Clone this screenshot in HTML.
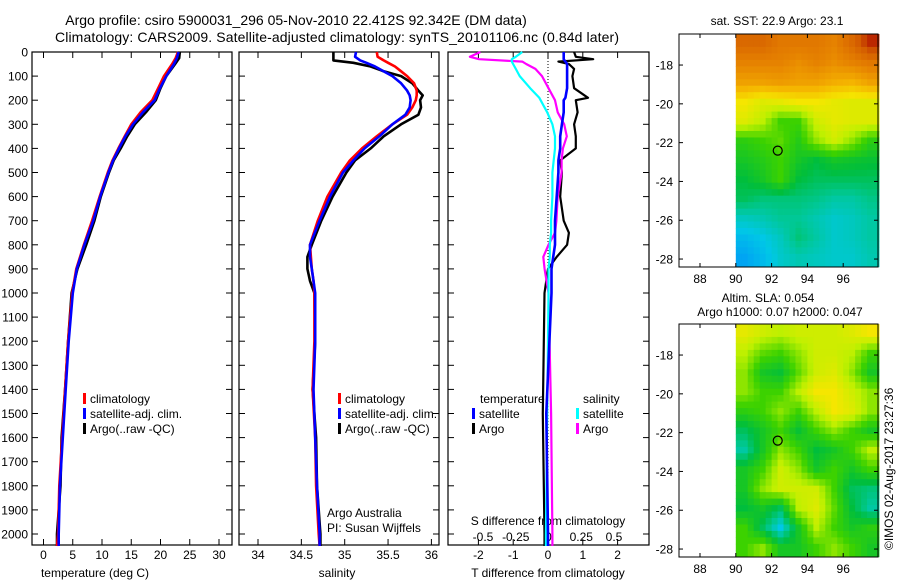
<!DOCTYPE html>
<html><head><meta charset="utf-8">
<style>
body{margin:0;background:#fff;}
svg{display:block;font-family:"Liberation Sans",sans-serif;}
text{fill:#000;}
</style></head>
<body>
<svg id="c" width="900" height="580" viewBox="0 0 900 580">
<text x="296" y="25" font-size="14" text-anchor="middle">Argo profile: csiro 5900031_296 05-Nov-2010 22.412S 92.342E (DM data)</text>
<text x="337" y="42" font-size="14" text-anchor="middle" textLength="564">Climatology: CARS2009. Satellite-adjusted climatology: synTS_20101106.nc (0.84d later)</text>
<text x="777" y="25" font-size="12" text-anchor="middle">sat. SST: 22.9 Argo: 23.1</text>
<text x="768" y="302" font-size="12" text-anchor="middle">Altim. SLA: 0.054</text>
<text x="780" y="316" font-size="12" text-anchor="middle">Argo h1000: 0.07 h2000: 0.047</text>
<text transform="translate(893,550) rotate(-90)" font-size="12">©IMOS 02-Aug-2017 23:27:36</text>
<text x="95" y="577" font-size="12" text-anchor="middle">temperature (deg C)</text>
<text x="337" y="577" font-size="12" text-anchor="middle">salinity</text>
<text x="548" y="577" font-size="12" text-anchor="middle">T difference from climatology</text>
<text x="548" y="525" font-size="12" text-anchor="middle">S difference from climatology</text>
<text x="327" y="517" font-size="12">Argo Australia</text>
<text x="327" y="532" font-size="12">PI: Susan Wijffels</text>
</svg>
<script>
// ---------- data ----------
const tDepths=[0,25,50,100,150,200,250,300,350,400,450,500,600,700,800,900,1000,1200,1400,1600,1800,2000,2050];
const tClim=[23.0,22.6,22.0,20.6,19.6,18.6,16.6,15.0,13.9,12.8,11.8,11.0,9.6,8.3,6.9,5.6,4.9,4.2,3.7,3.2,2.7,2.5,2.3];
const tSat=[23.1,22.8,22.3,21.0,19.9,19.0,17.0,15.3,14.0,12.9,11.9,11.1,9.7,8.5,7.0,5.7,5.0,4.3,3.8,3.3,2.8,2.6,2.6];
const tArgo=[23.3,23.2,22.5,21.0,20.0,19.2,17.5,15.6,14.3,13.2,12.0,11.2,9.8,8.7,7.3,5.8,4.8,4.2,3.7,3.1,2.9,2.3,2.3];
const sDepths=[0,20,35,45,60,80,100,130,160,180,200,230,260,300,350,400,450,500,600,700,800,850,900,950,1000,1200,1400,1600,1800,2000,2050];
const sClim=[35.37,35.38,35.45,35.5,35.58,35.65,35.72,35.8,35.83,35.83,35.82,35.78,35.72,35.55,35.37,35.2,35.06,34.96,34.8,34.69,34.6,34.61,34.62,34.64,34.65,34.65,34.63,34.66,34.67,34.7,34.71];
const sSat=[35.13,35.12,35.18,35.25,35.35,35.45,35.55,35.65,35.72,35.75,35.76,35.75,35.7,35.55,35.4,35.23,35.1,34.98,34.83,34.71,34.6,34.6,34.62,34.64,34.66,34.66,34.64,34.66,34.68,34.71,34.71];
const sArgo=[34.87,34.87,34.87,35.1,35.3,35.45,35.65,35.78,35.85,35.9,35.87,35.88,35.85,35.65,35.45,35.3,35.12,35.02,34.86,34.73,34.62,34.57,34.57,34.6,34.65,34.66,34.63,34.67,34.68,34.72,34.72];
const dDepths=[0,20,30,40,50,70,100,150,190,200,250,300,350,400,450,500,600,700,750,800,850,900,1000,1500,2000,2050];
const dTSat=[.45,.45,.45,.5,.55,.55,.55,.55,.5,.45,.45,.4,.35,.35,.3,.3,.25,.2,.2,.2,.15,.1,.1,-.05,0,0];
const dTArgo=[.75,.8,1.3,.3,.6,.75,.7,.75,1.15,.8,.85,.75,.8,.8,.35,.4,.35,.45,.6,.55,.25,0,-.1,-.15,-.1,-.1];
const dSArgo=[-.52,-.6,-.53,-.2,-.17,-.1,-.05,0,.04,.05,.07,.12,.14,.11,.1,.1,.07,.06,.05,0,-.04,-.03,0,.02,.03,.03];
const dSSat=[-.2,-.25,-.28,-.28,-.27,-.25,-.22,-.14,-.07,-.06,-.01,.03,.05,.05,.04,.03,.03,.02,.02,.01,.01,0,0,-.01,-.02,-.02];
const depthTicks=[0,100,200,300,400,500,600,700,800,900,1000,1100,1200,1300,1400,1500,1600,1700,1800,1900,2000];
const tTicks=[0,5,10,15,20,25,30];
const sTicks=[34,34.5,35,35.5,36];
const sTickLabels=["34","34.5","35","35.5","36"];
const dTTicks=[-2,-1,0,1,2];
const dSTicks=[-0.5,-0.25,0,0.25,0.5];
const dSTickLabels=["-0.5","-0.25","0","0.25","0.5"];
const lonTicks=[88,90,92,94,96];
const latTicks=[-18,-20,-22,-24,-26,-28];
const sstGrid=[
[.85,.85,.82,.82,.82,.8,.85,.92],
[.8,.8,.8,.78,.8,.78,.8,.82],
[.75,.75,.76,.75,.75,.73,.72,.75],
[.65,.62,.63,.65,.65,.63,.62,.62],
[.62,.58,.5,.5,.6,.63,.62,.62],
[.48,.5,.52,.47,.55,.6,.55,.48],
[.45,.47,.5,.45,.42,.45,.44,.43],
[.42,.45,.5,.42,.4,.4,.4,.4],
[.4,.38,.38,.38,.37,.35,.35,.37],
[.33,.34,.36,.36,.34,.32,.33,.35],
[.28,.3,.33,.38,.35,.32,.33,.35],
[.25,.28,.32,.34,.33,.32,.32,.34]];
const slaGrid=[
[.63,.6,.58,.6,.6,.6,.62,.65],
[.58,.52,.5,.55,.6,.6,.58,.5],
[.55,.45,.43,.52,.6,.62,.55,.45],
[.55,.5,.5,.58,.65,.65,.6,.55],
[.48,.5,.55,.5,.58,.65,.62,.55],
[.4,.45,.5,.43,.5,.55,.5,.45],
[.35,.45,.55,.5,.42,.45,.5,.58],
[.45,.5,.6,.55,.45,.5,.45,.5],
[.45,.55,.6,.6,.6,.5,.4,.38],
[.42,.45,.4,.58,.62,.52,.42,.35],
[.5,.4,.3,.45,.58,.5,.45,.48],
[.5,.55,.45,.45,.5,.55,.5,.45]];
const argoLon=92.342, argoLat=-22.412;

// ---------- helpers ----------
const svg=document.getElementById('c');
const NS='http://www.w3.org/2000/svg';
function mk(tag,attrs,parent){const e=document.createElementNS(NS,tag);for(const k in attrs)e.setAttribute(k,attrs[k]);(parent||svg).appendChild(e);return e;}
const Y0=52, YPX=0.241;
const yD=d=>Y0+d*YPX;
const PB=545;
const xT=v=>43.5+v*5.85;
const xS=v=>258+(v-34)*86.7;
const xDT=v=>548+v*34.8;
const xDS=v=>548.5+v*131;

function panel(name,x0,x1,labels){
  const r=mk('rect',{x:x0,y:Y0,width:x1-x0,height:PB-Y0,fill:'none',stroke:'#000','stroke-width':1.2});
  
  
  depthTicks.forEach(d=>{
    const y=yD(d);
    mk('line',{x1:x0,x2:x0+6,y1:y,y2:y,stroke:'#000'});
    mk('line',{x1:x1-6,x2:x1,y1:y,y2:y,stroke:'#000'});
    if(labels){const t=mk('text',{x:x0-4,y:y+4.5,'font-size':12,'text-anchor':'end'});t.textContent=d;
      
      }
  });
}
function xticks(ticks,labs,fx,ly,top){
  ticks.forEach((v,i)=>{const x=fx(v);
    mk('line',{x1:x,x2:x,y1:PB,y2:PB-6,stroke:'#000'});
    if(top)mk('line',{x1:x,x2:x,y1:Y0,y2:Y0+6,stroke:'#000'});
    const t=mk('text',{x:x,y:ly,'font-size':12,'text-anchor':'middle'});t.textContent=labs[i];
    
    
  });
}
function line(depths,vals,fx,col,name,w){
  const p=depths.map((d,i)=>fx(vals[i]).toFixed(1)+','+yD(d).toFixed(1)).join(' ');
  const e=mk('polyline',{points:p,fill:'none',stroke:col,'stroke-width':w||2.6,'stroke-linejoin':'round'});
  
  
}
function legend(x,y,col,label){
  const r=mk('rect',{x:x,y:y-10,width:3,height:11,fill:col});
  
  
  const t=mk('text',{x:x+7,y:y,'font-size':12});t.textContent=label;
  
  
}

// panel 1 temperature
panel('temperature-panel',32,232,true);
xticks(tTicks,tTicks.map(String),xT,559,true);
line(tDepths,tArgo,xT,'#000','temperature-argo-line');
line(tDepths,tClim,xT,'#f00','temperature-climatology-line');
line(tDepths,tSat,xT,'#00f','temperature-satellite-line');
legend(83,403,'#f00','climatology');legend(83,418,'#00f','satellite-adj. clim.');legend(83,433,'#000','Argo(..raw -QC)');

// panel 2 salinity
panel('salinity-panel',239,439,false);
xticks(sTicks,sTickLabels,xS,559,true);
line(sDepths,sArgo,xS,'#000','salinity-argo-line');
line(sDepths,sClim,xS,'#f00','salinity-climatology-line');
line(sDepths,sSat,xS,'#00f','salinity-satellite-line');
legend(338,403,'#f00','climatology');legend(338,418,'#00f','satellite-adj. clim.');legend(338,433,'#000','Argo(..raw -QC)');

// panel 3 differences
panel('difference-panel',448,649,false);
xticks(dTTicks,dTTicks.map(String),xDT,559,true);
dSTicks.forEach((v,i)=>{const t=mk('text',{x:xDS(v),y:541,'font-size':12,'text-anchor':'middle'});t.textContent=dSTickLabels[i];
  
  });
const zl=mk('line',{x1:xDT(0),x2:xDT(0),y1:Y0,y2:PB,stroke:'#000','stroke-dasharray':'1,2'});


line(dDepths,dTArgo,xDT,'#000','t-diff-argo-line',2.2);
line(dDepths,dSArgo,xDS,'#f0f','s-diff-argo-line',2.2);
line(dDepths,dSSat,xDS,'#0ff','s-diff-satellite-line',2.2);
line(dDepths,dTSat,xDT,'#00f','t-diff-satellite-line',2.6);
[['temperature',480],['salinity',583]].forEach(a=>{const t=mk('text',{x:a[1],y:403,'font-size':12});t.textContent=a[0];
  
  });
legend(472,418,'#00f','satellite');legend(472,433,'#000','Argo');
legend(576,418,'#0ff','satellite');legend(576,433,'#f0f','Argo');

// maps
const stops=[[0.2,[0,130,255]],[0.3,[0,200,230]],[0.36,[0,200,150]],[0.42,[0,190,60]],[0.5,[60,210,0]],[0.58,[190,240,0]],[0.65,[245,230,0]],[0.72,[245,180,0]],[0.8,[230,130,0]],[0.88,[210,90,0]],[0.95,[170,0,0]]];
function cmap(v){
  if(v<=stops[0][0])return 'rgb('+stops[0][1]+')';
  for(let i=1;i<stops.length;i++){if(v<=stops[i][0]){const a=stops[i-1],b=stops[i],f=(v-a[0])/(b[0]-a[0]);
    return 'rgb('+a[1].map((c,k)=>Math.round(c+(b[1][k]-c)*f)).join(',')+')';}}
  return 'rgb('+stops[stops.length-1][1]+')';
}
function sample(grid,r,c){
  // bilinear sample at fractional cell-centre coords
  const R=grid.length,C=grid[0].length;
  r=Math.max(0,Math.min(R-1,r));c=Math.max(0,Math.min(C-1,c));
  const r0=Math.floor(r),c0=Math.floor(c),r1=Math.min(R-1,r0+1),c1=Math.min(C-1,c0+1),fr=r-r0,fc=c-c0;
  return grid[r0][c0]*(1-fr)*(1-fc)+grid[r0][c1]*(1-fr)*fc+grid[r1][c0]*fr*(1-fc)+grid[r1][c1]*fr*fc;
}
function map(name,grid,top,bottom){
  const lonX=l=>700+(l-88)*17.9;
  const latY=l=>top+(-16.4-l)*19.4;
  const SUB=3, R=grid.length, C=grid[0].length;
  for(let i=0;i<R*SUB;i++)for(let j=0;j<C*SUB;j++){
    const v=sample(grid,(i+0.5)/SUB-0.5,(j+0.5)/SUB-0.5);
    const x=lonX(90+j/SUB), y=latY(-16.4-i/SUB);
    const e=mk('rect',{x:x.toFixed(2),y:y.toFixed(2),width:(17.9/SUB+0.4).toFixed(2),height:(19.4/SUB+0.4).toFixed(2),fill:cmap(v)});
    
    
  }
  const fr=mk('rect',{x:679,y:top,width:199,height:bottom-top,fill:'none',stroke:'#000'});
  
  
  lonTicks.forEach(l=>{const x=lonX(l);mk('line',{x1:x,x2:x,y1:bottom,y2:bottom-4,stroke:'#000'});mk('line',{x1:x,x2:x,y1:top,y2:top+4,stroke:'#000'});
    const t=mk('text',{x:x,y:bottom+16,'font-size':12,'text-anchor':'middle'});t.textContent=l;
    
    });
  latTicks.forEach(l=>{const y=latY(l);mk('line',{x1:679,x2:683,y1:y,y2:y,stroke:'#000'});mk('line',{x1:874,x2:878,y1:y,y2:y,stroke:'#000'});
    const t=mk('text',{x:673,y:y+4.5,'font-size':12,'text-anchor':'end'});t.textContent=l;
    
    });
  const m=mk('circle',{cx:lonX(argoLon),cy:latY(argoLat),r:4.5,fill:'none',stroke:'#000','stroke-width':1.2});
  
  
}
map('sst-map',sstGrid,34,267);
map('sla-map',slaGrid,324,557);
</script>
</body></html>
